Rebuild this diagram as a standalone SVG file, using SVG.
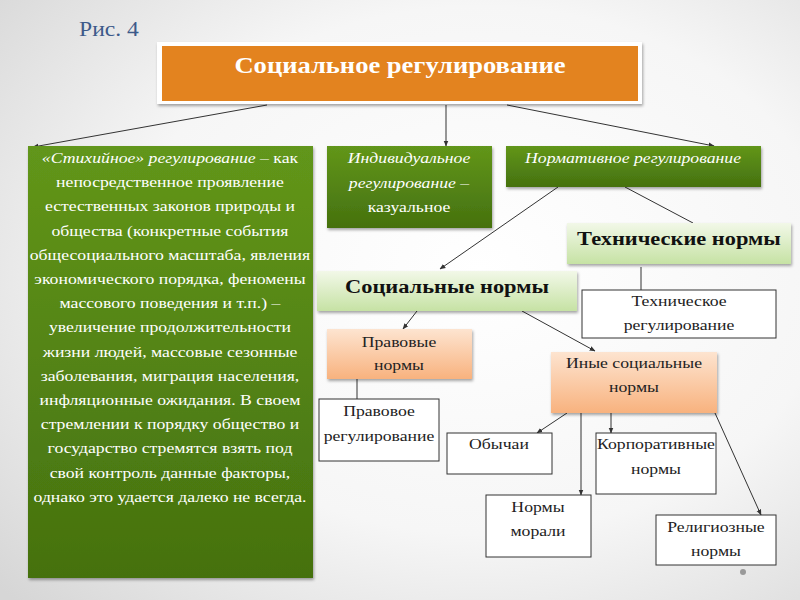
<svg xmlns="http://www.w3.org/2000/svg" width="800" height="600" viewBox="0 0 800 600">
<defs>
<radialGradient id="bg" cx="0.6" cy="0.45" r="0.8">
<stop offset="0" stop-color="#ffffff"/>
<stop offset="0.55" stop-color="#f6f6f6"/>
<stop offset="1" stop-color="#d6d6d6"/>
</radialGradient>
<linearGradient id="green" x1="0" y1="0" x2="0" y2="1">
<stop offset="0" stop-color="#62961a"/>
<stop offset="1" stop-color="#45710f"/>
</linearGradient>
<linearGradient id="lgreen" x1="0" y1="0" x2="0" y2="1">
<stop offset="0" stop-color="#f2f8e8"/>
<stop offset="1" stop-color="#c6e2a4"/>
</linearGradient>
<linearGradient id="lorange" x1="0" y1="0" x2="0" y2="1">
<stop offset="0" stop-color="#fde4d0"/>
<stop offset="1" stop-color="#f8b27e"/>
</linearGradient>
<filter id="sh" x="-10%" y="-10%" width="120%" height="130%">
<feDropShadow dx="1" dy="2" stdDeviation="1.5" flood-color="#000" flood-opacity="0.35"/>
</filter>
<marker id="arr" viewBox="0 0 10 10" refX="9" refY="5" markerWidth="6" markerHeight="6" orient="auto-start-reverse">
<path d="M0,1 L10,5 L0,9 z" fill="#333"/>
</marker>
</defs>
<style>
text{font-family:"Liberation Serif","Times New Roman",serif;text-anchor:middle;transform-box:fill-box;transform-origin:center;transform:scaleX(1.18)}
.w{fill:#ffffff;font-size:15px}
.wi{fill:#ffffff;font-size:15px;font-style:italic}
.b{fill:#222;font-size:15px}
.bb{fill:#111;font-size:19px;font-weight:bold}
.line{stroke:#333;stroke-width:1;fill:none}
.wb{fill:#ffffff;stroke:#333;stroke-width:1}
</style>
<rect x="0" y="0" width="800" height="600" fill="url(#bg)"/>
<text x="109" y="36" style="font-size:20px;fill:#3d5a8a">Рис. 4</text>

<g id="connectors">
<line class="line" x1="267" y1="105" x2="33" y2="147" marker-end="url(#arr)"/>
<line class="line" x1="446" y1="105" x2="446" y2="146" marker-end="url(#arr)"/>
<line class="line" x1="507" y1="105" x2="714" y2="146" marker-end="url(#arr)"/>
<line class="line" x1="558" y1="187" x2="440" y2="269" marker-end="url(#arr)"/>
<line class="line" x1="625" y1="187" x2="693" y2="223"/>
<line class="line" x1="641" y1="267" x2="641" y2="290"/>
<line class="line" x1="417" y1="311" x2="403" y2="329" marker-end="url(#arr)"/>
<line class="line" x1="522" y1="311" x2="595" y2="351" marker-end="url(#arr)"/>
<line class="line" x1="357" y1="379" x2="357" y2="399"/>
<line class="line" x1="567" y1="413" x2="537" y2="433" marker-end="url(#arr)"/>
<line class="line" x1="581" y1="413" x2="581" y2="495" marker-end="url(#arr)"/>
<line class="line" x1="611" y1="413" x2="611" y2="433" marker-end="url(#arr)"/>
<line class="line" x1="715" y1="413" x2="761" y2="515" marker-end="url(#arr)"/>
</g>

<g id="n-social-regulation">
<rect x="157" y="42" width="485" height="62" fill="#ffffff" filter="url(#sh)"/>
<rect x="162" y="46" width="476" height="55" fill="#e3831f"/>
<text x="400" y="73" style="fill:#fff;font-size:22.5px;font-weight:bold">Социальное регулирование</text>
</g>

<g id="n-spontaneous">
<rect x="28" y="146" width="285" height="432" fill="url(#green)" filter="url(#sh)"/>
<text x="170" y="163" class="w"><tspan font-style="italic">«Стихийное» регулирование</tspan> – как</text>
<text x="170" y="187.2" class="w">непосредственное проявление</text>
<text x="170" y="211.4" class="w">естественных законов природы и</text>
<text x="170" y="235.6" class="w">общества (конкретные события</text>
<text x="170" y="259.8" class="w">общесоциального масштаба, явления</text>
<text x="170" y="284" class="w">экономического порядка, феномены</text>
<text x="170" y="308.2" class="w">массового поведения и т.п.) –</text>
<text x="170" y="332.4" class="w">увеличение продолжительности</text>
<text x="170" y="356.6" class="w">жизни людей, массовые сезонные</text>
<text x="170" y="380.8" class="w">заболевания, миграция населения,</text>
<text x="170" y="405" class="w">инфляционные ожидания. В своем</text>
<text x="170" y="429.2" class="w">стремлении к порядку общество и</text>
<text x="170" y="453.4" class="w">государство стремятся взять под</text>
<text x="170" y="477.6" class="w">свой контроль данные факторы,</text>
<text x="170" y="501.8" class="w">однако это удается далеко не всегда.</text>
</g>

<g id="n-individual">
<rect x="327" y="146" width="165" height="82" fill="url(#green)" filter="url(#sh)"/>
<text x="409" y="163" class="wi">Индивидуальное</text>
<text x="409" y="188" class="wi">регулирование –</text>
<text x="409" y="212" class="w">казуальное</text>
</g>

<g id="n-normative">
<rect x="506" y="146" width="255" height="41" fill="url(#green)" filter="url(#sh)"/>
<text x="633" y="163" class="wi">Нормативное регулирование</text>
</g>

<g id="n-technical-norms">
<rect x="567" y="223" width="224" height="41" fill="url(#lgreen)" filter="url(#sh)"/>
<text x="679" y="245" class="bb">Технические нормы</text>
</g>

<g id="n-social-norms">
<rect x="317" y="271" width="260" height="40" fill="url(#lgreen)" filter="url(#sh)"/>
<text x="447" y="293" class="bb">Социальные нормы</text>
</g>

<g id="n-technical-regulation">
<rect class="wb" x="582" y="290" width="194" height="48"/>
<text x="679" y="306" class="b">Техническое</text>
<text x="679" y="330" class="b">регулирование</text>
</g>

<g id="n-legal-norms">
<rect x="327" y="329" width="145" height="50" fill="url(#lorange)" filter="url(#sh)"/>
<text x="399" y="347" class="b">Правовые</text>
<text x="399" y="370" class="b">нормы</text>
</g>

<g id="n-legal-regulation">
<rect class="wb" x="319" y="399" width="120" height="62"/>
<text x="379" y="416" class="b">Правовое</text>
<text x="379" y="441" class="b">регулирование</text>
</g>

<g id="n-other-norms">
<rect x="551" y="352" width="166" height="61" fill="url(#lorange)" filter="url(#sh)"/>
<text x="634" y="368" class="b">Иные социальные</text>
<text x="634" y="392" class="b">нормы</text>
</g>

<g id="n-customs">
<rect class="wb" x="447" y="433" width="105" height="41"/>
<text x="499" y="449" class="b">Обычаи</text>
</g>

<g id="n-corporate">
<rect class="wb" x="596" y="433" width="120" height="61"/>
<text x="656" y="449" class="b">Корпоративные</text>
<text x="656" y="474" class="b">нормы</text>
</g>

<g id="n-morals">
<rect class="wb" x="486" y="495" width="105" height="62"/>
<text x="538" y="512" class="b">Нормы</text>
<text x="538" y="536" class="b">морали</text>
</g>

<g id="n-religious">
<rect class="wb" x="656" y="515" width="120" height="50"/>
<text x="716" y="532" class="b">Религиозные</text>
<text x="716" y="556" class="b">нормы</text>
</g>

<circle cx="743" cy="572" r="3" fill="#999"/>
</svg>
